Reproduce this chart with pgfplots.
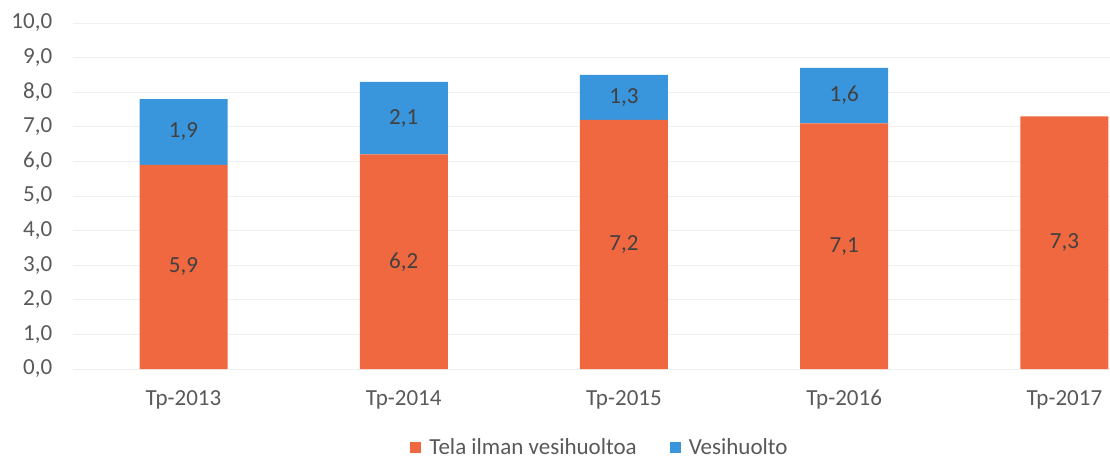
\documentclass[border=0pt]{standalone}
\usepackage{fontspec}
\setmainfont{Carlito}
\usepackage{pgfplots}
\pgfplotsset{compat=1.18}
\definecolor{orng}{RGB}{240,104,64}
\definecolor{blu}{RGB}{58,150,220}
\definecolor{txt}{RGB}{89,89,89}
\definecolor{lbl}{RGB}{64,64,64}
\pgfkeys{/pgf/number format/myfmt/.style={/pgf/number format/fixed, /pgf/number format/fixed zerofill, /pgf/number format/precision=1, /pgf/number format/use comma, /pgf/number format/assume math mode=true}}
\begin{document}
\fontsize{23}{27}\selectfont
\begin{tikzpicture}[x=1pt,y=1pt]
\path[use as bounding box] (0,0) rectangle (1110,466);
\begin{axis}[
  at={(73.4pt,97pt)}, anchor=south west,
  scale only axis, width=1036.6pt, height=346pt,
  xmin=-0.5, xmax=4.207, ymin=0, ymax=10,
  ybar stacked, bar width=88pt,
  axis line style={draw=none},
  tick style={draw=none},
  ymajorgrids, grid style={draw=black!6, line width=0.8pt},
  xtick={0,1,2,3,4},
  xticklabels={Tp-2013,Tp-2014,Tp-2015,Tp-2016,Tp-2017},
  ytick={0,1,...,10},
  yticklabel style={/pgf/number format/myfmt},
  ticklabel style={text=txt, font=\fontsize{23}{27}\selectfont},
  xticklabel style={anchor=center, yshift=-31pt, inner sep=0pt},
  yticklabel style={anchor=east, xshift=-21pt, inner sep=0pt},
  legend columns=2,
  legend style={draw=none, at={(0.507,-0.228)}, anchor=center,
    nodes={inner sep=0pt, text=txt, font=\fontsize{23}{27}\selectfont},
    column sep=8pt,
    /tikz/every even column/.append style={column sep=33pt}},
  legend image code/.code={\fill[#1] (0pt,-5.5pt) rectangle (11pt,5.5pt);},
  nodes near coords,
  point meta=rawy,
  nodes near coords style={/pgf/number format/myfmt},
  every node near coord/.append style={anchor=center, text=lbl, font=\fontsize{23}{27}\selectfont},
  clip=false,
]
\addplot[fill=orng, draw=none] coordinates {(0,5.9) (1,6.2) (2,7.2) (3,7.1) (4,7.3)};
\addplot[fill=blu, draw=none] coordinates {(0,1.9) (1,2.1) (2,1.3) (3,1.6)};
\legend{Tela ilman vesihuoltoa, Vesihuolto}
\end{axis}
\end{tikzpicture}
\end{document}
